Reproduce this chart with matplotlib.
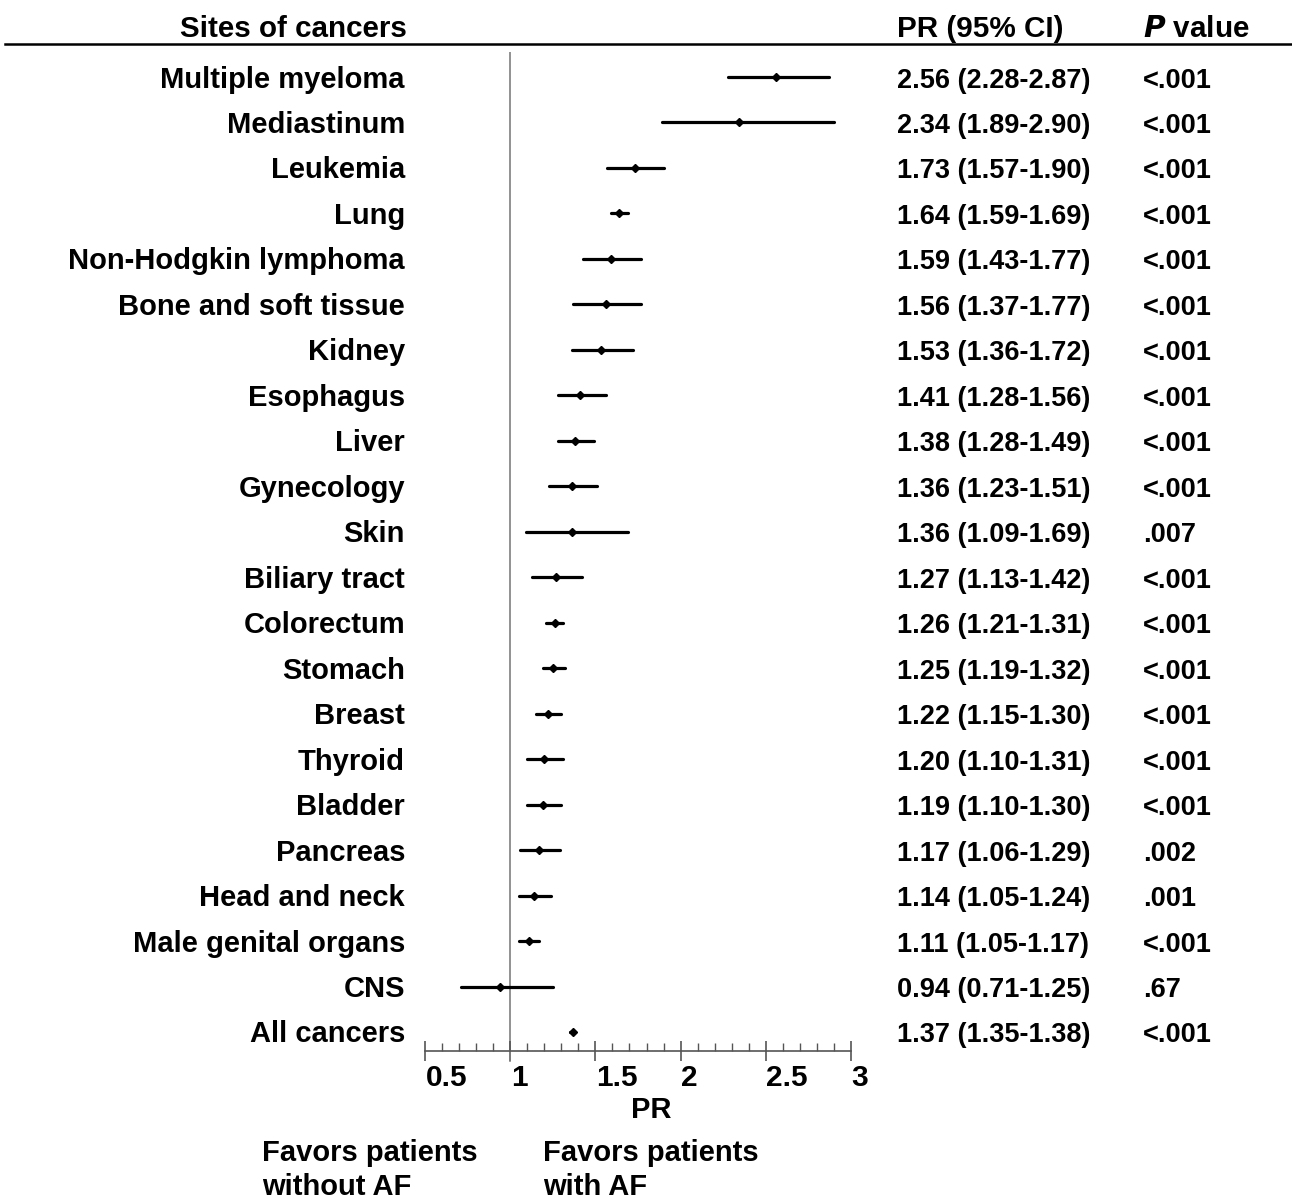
import numpy as np
import matplotlib
matplotlib.use("Agg")
import matplotlib.pyplot as plt
import matplotlib.transforms as mtransforms
from matplotlib.ticker import MultipleLocator

plt.rcParams['font.family'] = ['Liberation Sans', 'DejaVu Sans']
plt.rcParams['font.weight'] = 'bold'

# datos
sites = ['Multiple myeloma', 'Mediastinum', 'Leukemia', 'Lung', 'Non-Hodgkin lymphoma',
         'Bone and soft tissue', 'Kidney', 'Esophagus', 'Liver', 'Gynecology', 'Skin',
         'Biliary tract', 'Colorectum', 'Stomach', 'Breast', 'Thyroid', 'Bladder',
         'Pancreas', 'Head and neck', 'Male genital organs', 'CNS', 'All cancers']
pr = [2.56, 2.34, 1.73, 1.64, 1.59, 1.56, 1.53, 1.41, 1.38, 1.36, 1.36,
      1.27, 1.26, 1.25, 1.22, 1.20, 1.19, 1.17, 1.14, 1.11, 0.94, 1.37]
ci_lo = [2.28, 1.89, 1.57, 1.59, 1.43, 1.37, 1.36, 1.28, 1.28, 1.23, 1.09,
         1.13, 1.21, 1.19, 1.15, 1.10, 1.10, 1.06, 1.05, 1.05, 0.71, 1.35]
ci_hi = [2.87, 2.90, 1.90, 1.69, 1.77, 1.77, 1.72, 1.56, 1.49, 1.51, 1.69,
         1.42, 1.31, 1.32, 1.30, 1.31, 1.30, 1.29, 1.24, 1.17, 1.25, 1.38]
p_vals = ['<.001'] * 10 + ['.007'] + ['<.001'] * 6 + ['.002', '.001', '<.001', '.67', '<.001']
xticks = [0.5, 1, 1.5, 2, 2.5, 3]

W, H = 1292, 1202
fig = plt.figure(figsize=(W / 100, H / 100), dpi=100)

# ejes del forest plot
x0, x1 = 425, 851
ytop, ybot = 52, 1051
ax = fig.add_axes([x0 / W, 1 - ybot / H, (x1 - x0) / W, (ybot - ytop) / H])
n = len(sites)
step = (1032 - 77) / (n - 1)
ax.set_xlim(0.5, 3)
ax.set_ylim(n - 1 + (ybot - 1032) / step, -(77 - ytop) / step)

y = np.arange(n)
for i in range(n):
    ax.plot([ci_lo[i], ci_hi[i]], [y[i], y[i]], color='black', lw=2.3,
            solid_capstyle='round', zorder=3)
ax.plot(pr, y, 'D', color='black', ms=4.5, zorder=4)
ax.axvline(1, color='#7f7f7f', lw=1.2, zorder=1)
ax.plot([1, 1], [0, -0.01], transform=ax.get_xaxis_transform(), color='#7f7f7f',
        lw=1.2, clip_on=False)

for s in ['top', 'right', 'left']:
    ax.spines[s].set_visible(False)
ax.spines['bottom'].set_color('#555555')
ax.spines['bottom'].set_linewidth(1.2)
ax.set_yticks([])
ax.xaxis.set_minor_locator(MultipleLocator(0.1))
ax.set_xticks(xticks)
ax.set_xticklabels(['0.5', '1', '1.5', '2', '2.5', '3'], fontsize=21.5, fontweight='bold',
                   ha='left')
ax.tick_params(axis='x', which='major', direction='inout', length=14, width=1.2,
               color='#555555', pad=2)
ax.tick_params(axis='x', which='minor', direction='in', length=6, width=1.0,
               color='#555555')
ax.set_xlabel('PR', fontsize=21, fontweight='bold')
ax.xaxis.set_label_coords(0.53, -0.045)

# etiquetas un poco a la derecha de la marca
offset = mtransforms.ScaledTranslation(0.5 / 100, 0, fig.dpi_scale_trans)
for lbl in ax.get_xticklabels():
    lbl.set_transform(lbl.get_transform() + offset)

# textos de las columnas
def fx(px):
    return px / W

def fy(py):
    return 1 - py / H

for i in range(n):
    yb = fy(77 + i * step + 10.5)
    fig.text(fx(405), yb, sites[i], ha='right', va='baseline', fontsize=21, fontweight='bold')
    fig.text(fx(897), yb, f"{pr[i]:.2f} ({ci_lo[i]:.2f}-{ci_hi[i]:.2f})",
             ha='left', va='baseline', fontsize=19.5, fontweight='bold')
    fig.text(fx(1143), yb, p_vals[i], ha='left', va='baseline', fontsize=19.5, fontweight='bold')

fig.text(fx(407), fy(37), 'Sites of cancers', ha='right', va='baseline', fontsize=21.3, fontweight='bold')
fig.text(fx(897), fy(37), 'PR (95% CI)', ha='left', va='baseline', fontsize=21.3, fontweight='bold')
fig.text(fx(1143), fy(37), r'$\mathbf{\it{P}}$ value', ha='left', va='baseline',
         fontsize=21.3, fontweight='bold')
fig.add_artist(plt.Line2D([fx(5), fx(1292)], [fy(44), fy(44)], color='black', lw=1.8))

fig.text(fx(262), fy(1170), 'Favors patients\nwithout AF', ha='left', va='center',
         fontsize=21, fontweight='bold', linespacing=1.28)
fig.text(fx(543), fy(1170), 'Favors patients\nwith AF', ha='left', va='center',
         fontsize=21, fontweight='bold', linespacing=1.28)

fig.savefig('out.png', dpi=100)
